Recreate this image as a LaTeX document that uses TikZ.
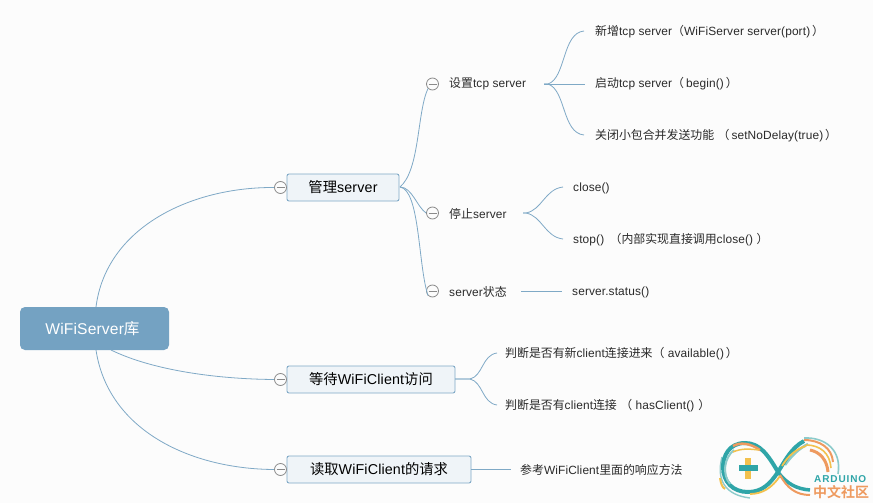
\documentclass[tikz,border=0pt]{standalone}
\usepackage{fontspec}
\setmainfont[LetterSpace=1]{Liberation Sans}
\newfontfamily\cjk{Noto Sans CJK SC}
\newfontfamily\cjkb{Noto Sans CJK SC Bold}
\newfontfamily\ardf[LetterSpace=9]{Liberation Sans Bold}
\usetikzlibrary{calc}
\definecolor{bg}{HTML}{FCFCFC}
\definecolor{link}{HTML}{7FA9C6}
\definecolor{rootc}{HTML}{74A2C2}
\definecolor{boxf}{HTML}{EFF4F8}
\definecolor{togg}{HTML}{8A8A8A}
\definecolor{txt}{HTML}{2A2A2A}
\definecolor{lteal}{HTML}{2FA5A8}
\definecolor{lorange}{HTML}{EE9A5F}
\definecolor{lyellow}{HTML}{F2C14E}
\definecolor{lpale}{HTML}{8CCBCB}
\tikzset{
 x=1pt,y=-1pt,
 rootbox/.style={fill=rootc,rounded corners=5pt,minimum width=149pt,minimum height=43pt,text=white,font=\fontsize{15.6}{18}\selectfont,inner sep=0pt},
 mainbox/.style={draw=link,fill=boxf,line width=.9pt,rounded corners=2pt,minimum height=27pt,inner sep=0pt,text=black,font=\fontsize{14.3}{16}\selectfont},
 leaf/.style={anchor=west,inner sep=0pt,text=txt,font=\fontsize{11.9}{14}\selectfont},
 conn/.style={draw=link,line width=.8pt},
 togglec/.style={circle,draw=togg,fill=bg,line width=.8pt,minimum size=12pt,inner sep=0pt,
   path picture={\draw[togg,line width=.8pt] ($(path picture bounding box.west)+(2,0)$) -- ($(path picture bounding box.east)+(-2,0)$);}},
}
\begin{document}
\begin{tikzpicture}
\useasboundingbox (0,0) rectangle (873,503);
\fill[bg] (0,0) rectangle (873,503);
% main nodes
\node[rootbox] (root) at (94.5,328.5) {\hspace*{-4pt}\raisebox{1pt}{WiFiServer{\cjk 库}}};
\node[mainbox,minimum width=112pt] (m1) at (343,187.5) {\raisebox{1pt}{{\cjk 管理}server}};
\node[mainbox,minimum width=168pt] (m2) at (371,379.5) {\raisebox{1pt}{{\cjk 等待}WiFiClient{\cjk 访问}}};
\node[mainbox,minimum width=184pt] (m3) at (379,469.5) {\raisebox{1pt}{{\cjk 读取}WiFiClient{\cjk 的请求}}};
% toggles
\node[togglec] (t1) at (280.5,187.5) {};
\node[togglec] (t2) at (280.5,379.5) {};
\node[togglec] (t3) at (280.5,469.5) {};
\node[togglec] (s1) at (432.5,84) {};
\node[togglec] (s2) at (432.5,213) {};
\node[togglec] (s3) at (432.5,291) {};
% second level
\node[leaf] (a1) at (449,84) {{\cjk 设置}tcp server};
\node[leaf] (a2) at (449,213.5) {{\cjk 停止}server};
\node[leaf] (a3) at (449,291.5) {server{\cjk 状态}};
% leaves
\node[leaf] (b1) at (595,32) {{\cjk 新增}tcp server{\cjk （}WiFiServer server(port)\,{\cjk ）}};
\node[leaf] (b2) at (595,84) {{\cjk 启动}tcp server{\cjk （}\,begin()\,{\cjk ）}};
\node[leaf] (b3) at (595,136) {{\cjk 关闭小包合并发送功能}\ {\cjk （}\,setNoDelay(true)\,{\cjk ）}};
\node[leaf] (c1) at (573,188.5) {close()};
\node[leaf] (c2) at (573,240) {stop()\ \,{\cjk （内部实现直接调用}close()\ {\cjk ）}};
\node[leaf] (c3) at (572,292) {server.status()};
\node[leaf] (d1) at (505,354) {{\cjk 判断是否有新}client{\cjk 连接进来（}\ available()\,{\cjk ）}};
\node[leaf] (d2) at (505,406) {{\cjk 判断是否有}client{\cjk 连接}\ {\cjk （}\ hasClient()\,\,{\cjk ）}};
\node[leaf] (e1) at (520,470) {{\cjk 参考}WiFiClient{\cjk 里面的响应方法}};
% free ends
\coordinate (rT) at (96,307);
\coordinate (rR) at (111,350);
\coordinate (rB) at (96,350);
\coordinate (m1R) at (400,187);
\coordinate (f1) at (544,84);
\coordinate (f2) at (523,213);
\coordinate (f3) at (521,291);
\coordinate (f4) at (455,379);
\coordinate (f5) at (471,469);
\coordinate (b1e) at (584,31);
\coordinate (b2e) at (585,84);
\coordinate (b3e) at (584,135);
\coordinate (c1e) at (563,187);
\coordinate (c2e) at (563,239);
\coordinate (c3e) at (562,291);
\coordinate (d1e) at (497,353);
\coordinate (d2e) at (497,405);
\coordinate (e1e) at (511,469);
% connectors
\draw[conn] (rT) .. controls (106,228) and (190,187) .. (t1.west);
\draw[conn] (rR) .. controls (152,370) and (215,379) .. (t2.west);
\draw[conn] (rB) .. controls (108,430) and (190,469) .. (t3.west);
\draw[conn] (m1R) .. controls (420,170) and (417,112) .. (s1.south west);
\draw[conn] (m1R) .. controls (412,187) and (417,207) .. (s2.west);
\draw[conn] (m1R) .. controls (420,190) and (418,265) .. (s3.south west);
\draw[conn] (f1) -- (548,84) .. controls (566,78) and (562,33) .. (b1e);
\draw[conn] (f1) -- (b2e);
\draw[conn] (f1) -- (548,84) .. controls (566,90) and (562,133) .. (b3e);
\draw[conn] (f2) -- (526,213) .. controls (542,210) and (545,189) .. (c1e);
\draw[conn] (f2) -- (526,213) .. controls (542,216) and (545,237) .. (c2e);
\draw[conn] (f3) -- (c3e);
\draw[conn] (f4) -- (470,379) .. controls (483,376) and (482,355) .. (d1e);
\draw[conn] (f4) -- (470,379) .. controls (483,382) and (482,403) .. (d2e);
\draw[conn] (f5) -- (e1e);
% logo
\begin{scope}[line cap=butt]
% pale outer strokes
\draw[lpale,line width=1.6pt] (804,438) .. controls (825,437) and (842,450) .. (838,474);
\draw[lpale,line width=1.4pt] (722,457) .. controls (716,480) and (725,495) .. (750,498);
\draw[lpale,line width=2.5pt] (785,465) .. controls (792,455) and (800,448) .. (808,444);
% orange/yellow right arcs
\draw[lorange,line width=2pt] (804,440) .. controls (820,440) and (832,448) .. (833,462);
\draw[lyellow,line width=1.6pt] (806,445) .. controls (820,445) and (830,453) .. (831,468);
\draw[lorange,line width=3pt] (810,450) .. controls (820,452) and (827,460) .. (828,472);
% main teal strands
\draw[lteal,line width=4pt] (778,472) .. controls (768,455) and (760,443) .. (745,443) .. controls (729,443) and (723,456) .. (723,467) .. controls (723,482) and (733,492) .. (748,492) .. controls (762,492) and (770,484) .. (778,472) .. controls (785,461) and (791,448) .. (804,441);
\draw[lteal,line width=3.5pt] (778,472) .. controls (786,483) and (796,489) .. (810,490);
\draw[lpale,line width=2pt] (730,484) .. controls (722,474) and (724,458) .. (734,450);
% orange/yellow crossing strands
\draw[lyellow,line width=1.8pt] (782,466) .. controls (788,456) and (796,449) .. (806,446);
\draw[lorange,line width=2pt] (780,475) .. controls (787,488) and (796,495) .. (810,495);
\draw[lorange,line width=2.5pt] (733,446) .. controls (740,442) and (750,443) .. (760,450);
\draw[lyellow,line width=1.5pt] (733,452) .. controls (742,448) and (750,449) .. (759,450);
\draw[lyellow,line width=1.8pt] (750,494) .. controls (762,494) and (772,488) .. (780,476);
\draw[lyellow,line width=2pt] (720,478) .. controls (721,484) and (722,487) .. (725,489);
\fill[lyellow] (745,458) rectangle (751,479);
\fill[lteal] (739,465) rectangle (758,471);
\end{scope}
\node[anchor=west,inner sep=0pt,text=lteal,font=\ardf\fontsize{10}{10}\selectfont] (lg1) at (814,479.5) {ARDUINO};
\node[anchor=west,inner sep=0pt,text=lorange,font=\cjkb\fontsize{14}{14}\selectfont] (lg2) at (813,492.5) {中文社区};
\end{tikzpicture}
\end{document}
